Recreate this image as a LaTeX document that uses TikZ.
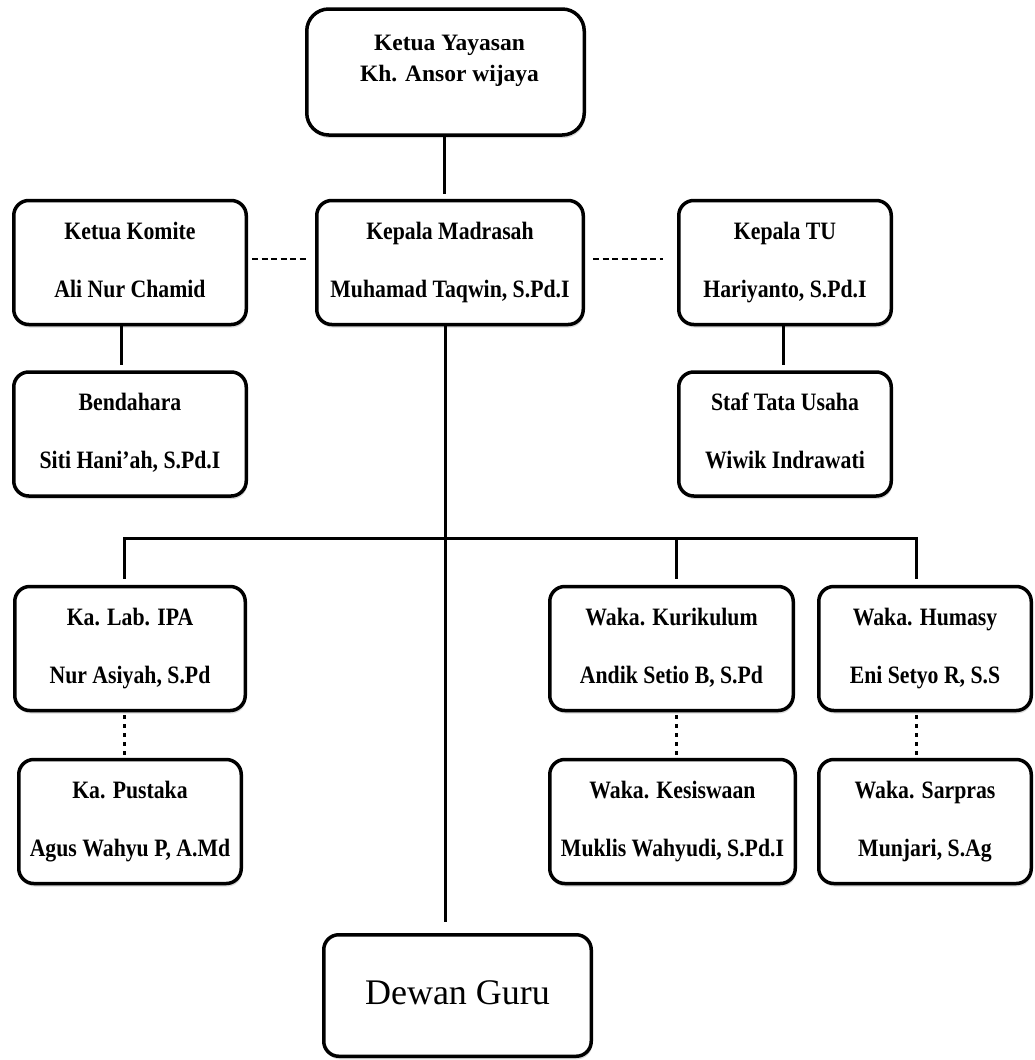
\documentclass[tikz,border=0pt]{standalone}
\usepackage{fontspec}
\setmainfont{Liberation Serif}
\newfontfamily\namefont[FakeStretch=0.87]{Liberation Serif}
\newcommand\namestrut{\rule[-6pt]{0pt}{24pt}}
\usetikzlibrary{shadows}

\begin{document}
\begin{tikzpicture}[
    x=1pt, y=-1pt,
    box/.style={draw, fill=white, line width=3.5pt, rounded corners=15pt, minimum height=124pt, align=center,
        font=\namefont\bfseries\fontsize{25}{58}\selectfont,
        execute at begin node=\namestrut, execute at end node=\namestrut,
        drop shadow={shadow xshift=1pt, shadow yshift=-3pt, opacity=.3, fill=gray}},
    link/.style={line width=3pt},
    dashlink/.style={line width=2.5pt, dash pattern=on 6pt off 3.5pt},
    dotlink/.style={line width=3pt, dash pattern=on 4pt off 5pt},
]
\useasboundingbox (0, 0) rectangle (1034, 1060);

\draw (445.5, 72) node[box, minimum width=277.5pt, minimum height=126pt, rounded corners=22pt] (yayasan) {};
\draw (yayasan.center) ++(4, -11) node[font=\bfseries\fontsize{23.5}{31}\selectfont, align=center] (yayasan text) {Ketua Yayasan\\Kh. Ansor wijaya};

\draw (130, 262.5) node[box, minimum width=232.5pt] (komite) {Ketua Komite\\Ali Nur Chamid};
\draw (450, 262.5) node[box, minimum width=266.5pt] (madrasah) {Kepala Madrasah\\Muhamad Taqwin, S.Pd.I};
\draw (785, 262.5) node[box, minimum width=212.5pt] (tu) {Kepala TU\\Hariyanto, S.Pd.I};
\draw (130, 434) node[box, minimum width=232.5pt] (bendahara) {Bendahara\\Siti Hani’ah, S.Pd.I};
\draw (785, 434) node[box, minimum width=212.5pt] (staf) {Staf Tata Usaha\\Wiwik Indrawati};

\draw (130, 648.5) node[box, minimum width=230.5pt] (kalab) {Ka. Lab. IPA\\Nur Asiyah, S.Pd};
\draw (671.5, 648.5) node[box, minimum width=243.5pt] (kurikulum) {Waka. Kurikulum\\Andik Setio B, S.Pd};
\draw (925, 648.5) node[box, minimum width=212.5pt] (humasy) {Waka. Humasy\\Eni Setyo R, S.S};
\draw (130, 821.5) node[box, minimum width=222.5pt] (pustaka) {Ka. Pustaka\\Agus Wahyu P, A.Md};
\draw (672.5, 821.5) node[box, minimum width=245.5pt] (kesiswaan) {Waka. Kesiswaan\\Muklis Wahyudi, S.Pd.I};
\draw (925, 821.5) node[box, minimum width=212.5pt] (sarpras) {Waka. Sarpras\\Munjari, S.Ag};

\draw (457.5, 995.5) node[box, minimum width=267.5pt, minimum height=121.5pt, font=\fontsize{36}{40}\selectfont] (dewan) {Dewan Guru};

\coordinate (bus) at (445, 538);

\draw[link, shorten >=5pt] ([xshift=-1.5pt]yayasan.south) -- ([xshift=-1.5pt]yayasan.south |- madrasah.north);
\draw[dashlink, shorten <=4pt, shorten >=7pt] ([yshift=3.5pt]komite.east) -- ([yshift=3.5pt]madrasah.west);
\draw[dashlink, shorten <=8pt, shorten >=14pt] ([yshift=3.5pt]madrasah.east) -- ([yshift=3.5pt]tu.west);
\draw[link, shorten >=5pt] ([xshift=-9pt]komite.south) -- ([xshift=-9pt]bendahara.north);
\draw[link, shorten >=5pt] ([xshift=-2pt]tu.south) -- ([xshift=-2pt]staf.north);

\draw[link, shorten >=11pt] (madrasah.south -| bus) -- (dewan.north -| bus);
\draw[link, shorten <=6pt, shorten >=6pt] ([xshift=-6pt]kalab.north) |- (bus) -| ([xshift=-9pt]humasy.north);
\draw[link, shorten <=6pt] ([xshift=4.5pt]kurikulum.north) -- ([xshift=4.5pt]kurikulum.north |- bus);

\draw[dotlink, shorten <=3pt, shorten >=3pt] ([xshift=-6pt]kalab.south) -- ([xshift=-6pt]kalab.south |- pustaka.north);
\draw[dotlink, shorten <=3pt, shorten >=3pt] ([xshift=4.5pt]kurikulum.south) -- ([xshift=4.5pt]kurikulum.south |- kesiswaan.north);
\draw[dotlink, shorten <=3pt, shorten >=3pt] ([xshift=-9pt]humasy.south) -- ([xshift=-9pt]humasy.south |- sarpras.north);
\end{tikzpicture}
\end{document}
